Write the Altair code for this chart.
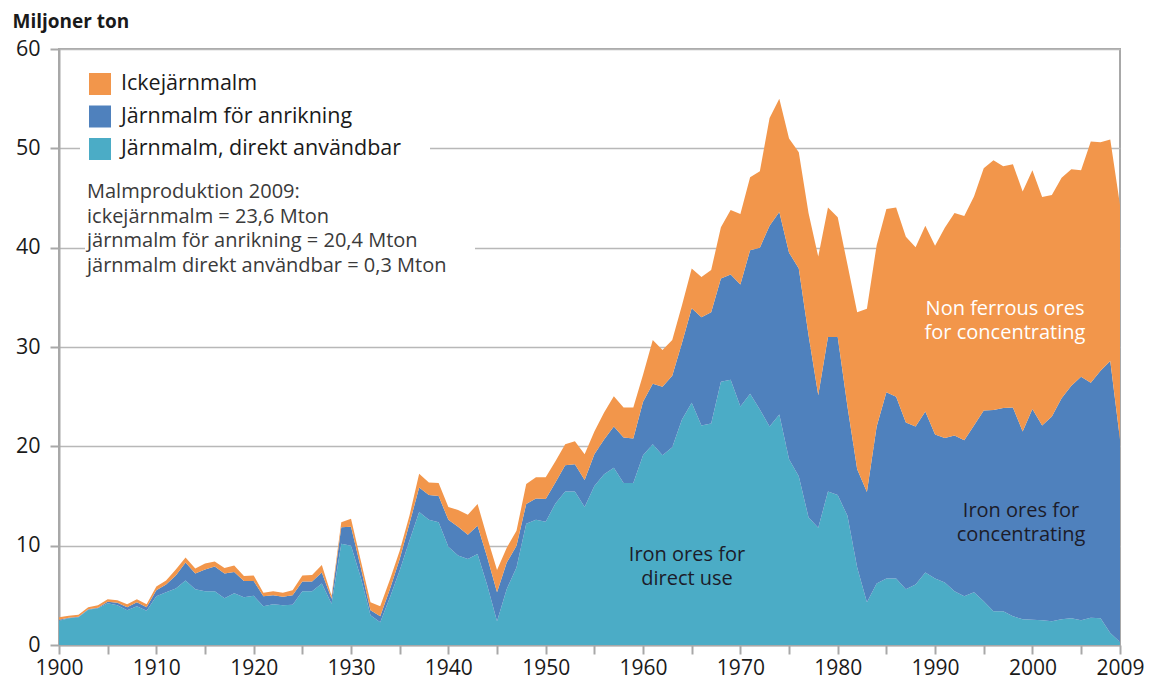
import altair as alt
import pandas as pd

years = list(range(1900, 2010))

# Järnmalm, direkt användbar (Mton)
direkt = [
    2.45, 2.7, 2.8, 3.55, 3.7, 4.2, 4.0, 3.5, 3.9, 3.45,
    4.9, 5.3, 5.7, 6.5, 5.6, 5.4, 5.4, 4.7, 5.2, 4.8,
    4.95, 3.9, 4.1, 4.0, 4.05, 5.4, 5.4, 6.2, 4.15, 10.2,
    10.0, 6.8, 3.0, 2.3, 4.8, 7.5, 10.5, 13.4, 12.6, 12.35,
    9.9, 9.0, 8.65, 9.15, 6.0, 2.4, 5.65, 7.8, 12.2, 12.6,
    12.4, 14.25, 15.45, 15.45, 13.9, 16.0, 17.2, 17.85, 16.3, 16.3,
    19.1, 20.2, 19.1, 19.9, 22.7, 24.4, 22.1, 22.3, 26.5, 26.7,
    24.0, 25.3, 23.7, 22.0, 23.2, 18.7, 17.0, 12.85, 11.8, 15.45,
    15.1, 13.0, 7.8, 4.3, 6.2, 6.7, 6.7, 5.6, 6.1, 7.3,
    6.7, 6.3, 5.4, 4.9, 5.3, 4.4, 3.4, 3.4, 2.9, 2.6,
    2.55, 2.5, 2.4, 2.6, 2.7, 2.5, 2.75, 2.7, 1.2, 0.3,
]

# Järnmalm för anrikning (Mton)
anrikning = [
    0.1, 0.05, 0.05, 0.05, 0.05, 0.15, 0.25, 0.3, 0.4, 0.35,
    0.6, 0.8, 1.3, 1.8, 1.6, 2.2, 2.5, 2.5, 2.15, 1.65,
    1.5, 1.0, 0.9, 0.85, 0.95, 1.0, 1.0, 1.1, 0.5, 1.65,
    1.9, 1.0, 0.5, 0.6, 0.85, 1.15, 1.7, 2.45, 2.5, 2.65,
    2.7, 2.9, 2.45, 2.85, 2.8, 2.9, 2.65, 2.2, 2.0, 2.15,
    2.3, 2.1, 2.65, 2.75, 2.7, 3.2, 3.5, 4.15, 4.6, 4.5,
    5.4, 6.1, 6.9, 7.2, 7.7, 9.5, 10.9, 11.2, 10.4, 10.6,
    12.3, 14.45, 16.3, 20.2, 20.4, 20.8, 20.9, 18.35, 13.35, 15.55,
    15.9, 11.0, 9.9, 11.1, 15.8, 18.75, 18.3, 16.8, 15.9, 16.2,
    14.5, 14.55, 15.7, 15.7, 16.8, 19.2, 20.25, 20.45, 21.0, 18.9,
    21.2, 19.6, 20.6, 22.25, 23.4, 24.5, 23.65, 24.9, 27.4, 20.4,
]

# Ickejärnmalm (Mton)
icke = [
    0.25, 0.2, 0.2, 0.2, 0.25, 0.25, 0.25, 0.3, 0.3, 0.3,
    0.4, 0.4, 0.6, 0.5, 0.5, 0.6, 0.5, 0.55, 0.65, 0.5,
    0.55, 0.35, 0.4, 0.4, 0.5, 0.6, 0.65, 0.75, 0.3, 0.5,
    0.8, 0.7, 0.8, 1.0, 0.95, 0.85, 0.8, 1.4, 1.25, 1.3,
    1.3, 1.7, 2.0, 2.2, 2.0, 2.25, 1.5, 1.5, 2.0, 2.15,
    2.2, 2.15, 2.1, 2.3, 2.6, 2.3, 2.7, 3.05, 3.0, 3.1,
    2.7, 4.4, 3.7, 3.6, 3.8, 4.0, 4.05, 4.25, 5.15, 6.5,
    7.1, 7.35, 7.7, 10.85, 11.4, 11.5, 11.7, 12.3, 13.95, 13.05,
    12.05, 14.3, 15.8, 18.45, 18.25, 18.45, 19.05, 18.7, 18.05, 18.7,
    19.0, 21.15, 22.4, 22.6, 23.05, 24.4, 25.15, 24.35, 24.5, 24.15,
    24.05, 23.0, 22.3, 22.2, 21.8, 20.8, 24.3, 23.0, 22.3, 23.6,
]

series_names = ["Ickejärnmalm", "Järnmalm för anrikning", "Järnmalm, direkt användbar"]
series_colors = ["#F2964B", "#4F81BD", "#4BACC6"]
stack_order = {"Järnmalm, direkt användbar": 0, "Järnmalm för anrikning": 1, "Ickejärnmalm": 2}

x_tick_values = list(range(1900, 2010, 5)) + [2009]
y_tick_values = [0, 10, 20, 30, 40, 50, 60]

info_lines = ["Malmproduktion 2009:", "ickejärnmalm = 23,6 Mton",
              "järnmalm för anrikning = 20,4 Mton", "järnmalm direkt användbar = 0,3 Mton"]

FONT = "Open Sans"

rows = []
for name, vals in [("Järnmalm, direkt användbar", direkt),
                   ("Järnmalm för anrikning", anrikning),
                   ("Ickejärnmalm", icke)]:
    for y, v in zip(years, vals):
        rows.append({"year": y, "series": name, "value": v, "ord": stack_order[name]})
df = pd.DataFrame(rows)

areas = alt.Chart(df).mark_area(interpolate="linear").encode(
    x=alt.X("year:Q",
            scale=alt.Scale(domain=[1900, 2009], nice=False, zero=False),
            axis=alt.Axis(title=None, values=x_tick_values, grid=False,
                          labelExpr="(datum.value % 10 == 0 || datum.value == 2009) ? datum.value : ''",
                          format="d", labelFontSize=21, labelPadding=3, tickSize=9,
                          labelFlush=False, labelOverlap=False)),
    y=alt.Y("value:Q", stack="zero",
            scale=alt.Scale(domain=[0, 60], nice=False),
            axis=alt.Axis(title="Miljoner ton", values=y_tick_values, grid=True,
                          labelFontSize=21.5, labelPadding=10, tickSize=9,
                          titleAngle=0, titleX=-47, titleY=-28, titleAlign="left",
                          titleBaseline="middle", titleFontSize=19, titleFontWeight="bold",
                          titleColor="#1a1a1a")),
    color=alt.Color("series:N",
                    scale=alt.Scale(domain=series_names, range=series_colors),
                    legend=alt.Legend(title=None, orient="none", legendX=30, legendY=24,
                                      symbolType="square", symbolSize=484, symbolStrokeWidth=0,
                                      symbolOpacity=1, labelFontSize=21.5, labelFont=FONT,
                                      labelColor="#1a1a1a", labelOffset=10, rowPadding=10.5,
                                      labelLimit=500, padding=0)),
    order=alt.Order("ord:Q", sort="ascending"),
)

one = pd.DataFrame({"k": [0]})

legend_bg = alt.Chart(one).mark_rect(color="white").encode(
    x=alt.value(21), x2=alt.value(371), y=alt.value(8), y2=alt.value(118))
info_bg = alt.Chart(one).mark_rect(color="white").encode(
    x=alt.value(26), x2=alt.value(416), y=alt.value(128), y2=alt.value(228))

layers = [areas, legend_bg, info_bg]

info_y0 = 143
for i, line in enumerate(info_lines):
    layers.append(alt.Chart(one).mark_text(align="left", baseline="middle", fontSize=20, font=FONT,
                                           color="#3a3a3a").encode(
        x=alt.value(28), y=alt.value(info_y0 + i * 24.5), text=alt.value(line)))

def two_line_label(lines, cx, cy, color):
    out = []
    for i, line in enumerate(lines):
        out.append(alt.Chart(one).mark_text(align="center", baseline="middle", fontSize=20,
                                            font=FONT, color=color).encode(
            x=alt.value(cx), y=alt.value(cy - 12.25 + i * 24.5), text=alt.value(line)))
    return out

layers += two_line_label(["Iron ores for", "direct use"], 628, 518, "#1c1c2a")
layers += two_line_label(["Non ferrous ores", "for concentrating"], 946, 272, "white")
layers += two_line_label(["Iron ores for", "concentrating"], 962, 474, "#1c1c2a")

chart = alt.layer(*layers).properties(
    width=1061, height=596,
    autosize=alt.AutoSizeParams(type="none"),
    padding={"left": 51, "top": 41, "right": 24, "bottom": 34},
).configure(font=FONT).configure_view(
    stroke="#a8a8a8", strokeWidth=2
).configure_axis(
    labelFont=FONT, labelColor="#1a1a1a", titleFont=FONT,
    domainColor="#a8a8a8", domainWidth=2, tickColor="#a8a8a8", tickWidth=2,
    gridColor="#b8b8b8", gridWidth=1.5,
)

chart.save("out.html", embed_options={"renderer": "svg", "actions": False})
